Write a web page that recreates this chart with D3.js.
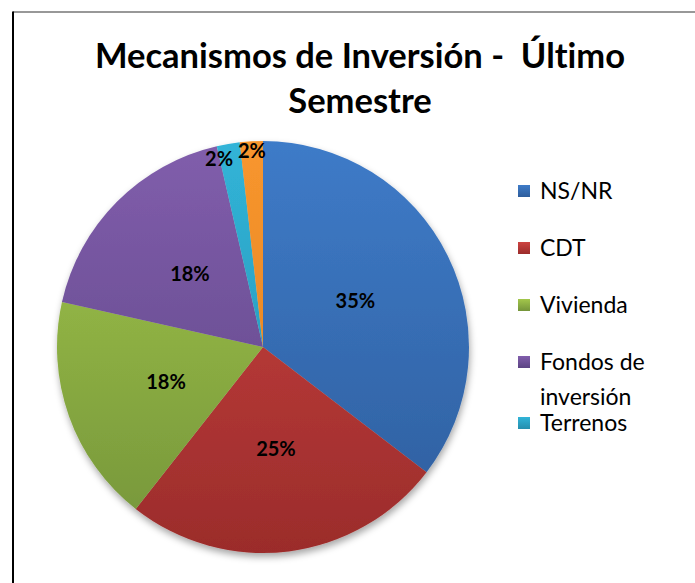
<!DOCTYPE html>
<html>
<head>
<meta charset="utf-8">
<script src="https://cdn.jsdelivr.net/npm/d3@7"></script>
<style>
  body { margin: 0; background: #fff; }
  figure { margin: 0; }
  svg { display: block; font-family: Lato, "Open Sans", sans-serif; font-variant-ligatures: none; }
</style>
</head>
<body>
<figure></figure>
<script>
// data (percent of answers)
const categories = ['NS/NR', 'CDT', 'Vivienda', 'Fondos de inversión', 'Terrenos', 'Otros']
const values = [35.4, 25.2, 17.9, 17.9, 1.8, 1.8]
const titleLines = ['Mecanismos de Inversión -  Último', 'Semestre']
const legendCount = 5   // the last entry doesn't fit in the box

// slice gradients, light at the top, dark at the bottom
const colorsTop = ['#3e7bc8', '#cd4441', '#a3c74b', '#815eac', '#31b4d8', '#f8962e']
const colorsBottom = ['#2e5d9c', '#9b2c2b', '#74943a', '#5b4383', '#258ead', '#de7e1f']

const width = 695, height = 583,
      cx = 263, cy = 347, R = 206,
      total = d3.sum(values),
      fmt = d3.format('.0%')

const svg = d3.select('figure')
    .append('svg')
        .attr('width', width)
        .attr('height', height)

const defs = svg.append('defs')

const shadow = defs.append('filter')
    .attr('id', 'shadow')
    .attr('x', '-10%').attr('y', '-10%')
    .attr('width', '120%').attr('height', '120%')
shadow.append('feDropShadow')
    .attr('dx', 1).attr('dy', 4)
    .attr('stdDeviation', 3.5)
    .attr('flood-color', '#000')
    .attr('flood-opacity', 0.35)

categories.forEach((c, i) => {
  const g = defs.append('linearGradient')
      .attr('id', 'grad' + i)
      .attr('gradientUnits', 'userSpaceOnUse')
      .attr('x1', 0).attr('x2', 0)
      .attr('y1', -R).attr('y2', R)
  g.append('stop').attr('offset', '0%').attr('stop-color', colorsTop[i])
  g.append('stop').attr('offset', '100%').attr('stop-color', colorsBottom[i])

  const lg = defs.append('linearGradient')
      .attr('id', 'lgrad' + i)
      .attr('x1', 0).attr('x2', 0).attr('y1', 0).attr('y2', 1)
  lg.append('stop').attr('offset', '0%').attr('stop-color', colorsTop[i])
  lg.append('stop').attr('offset', '100%').attr('stop-color', colorsBottom[i])
})

// frame (only left and top edges show in the crop)
svg.append('line')
    .attr('x1', 13).attr('x2', width)
    .attr('y1', 12).attr('y2', 12)
    .attr('stroke', '#333').attr('stroke-width', 1.2)
svg.append('line')
    .attr('x1', 13).attr('x2', 13)
    .attr('y1', 11.4).attr('y2', height)
    .attr('stroke', '#000').attr('stroke-width', 2)

// title
svg.append('g')
    .selectAll('text')
    .data(titleLines)
    .join('text')
        .attr('x', 360)
        .attr('y', (d, i) => 68 + i * 45)
        .attr('text-anchor', 'middle')
        .style('white-space', 'pre')
        .attr('font-size', 34.5)
        .attr('font-weight', 'bold')
        .attr('fill', '#000')
        .text(d => d)

// pie
const pie = d3.pie().sort(null).value(d => d)
const arcs = pie(values)
const arc = d3.arc().innerRadius(0).outerRadius(R)

const pieG = svg.append('g')
    .attr('transform', 'translate(' + cx + ',' + cy + ')')

pieG.append('g')
    .attr('filter', 'url(#shadow)')
    .selectAll('path')
    .data(arcs)
    .join('path')
        .attr('d', arc)
        .attr('fill', (d, i) => 'url(#grad' + i + ')')

// labels
const labelG = pieG.append('g')
    .attr('font-size', 20)
    .attr('font-weight', 'bold')
    .attr('text-anchor', 'middle')
    .attr('fill', '#000')

const placed = []
const pad = 4
const overlaps = (a, b) => !(a.x + a.width + pad < b.x || b.x + b.width + pad < a.x || a.y + a.height < b.y || b.y + b.height < a.y)

arcs.slice().reverse().forEach(d => {
  const frac = d.value / total
  const t = labelG.append('text')
      .attr('dy', '0.35em')
      .text(fmt(frac))
  if (frac >= 0.05) {
    const [x, y] = arc.centroid(d)
    t.attr('x', x).attr('y', y)
    return
  }
  // small slices: put the label near the rim, nudge it back until it is clear
  let a = (d.startAngle + d.endAngle) / 2, r = R * 0.955
  const setPos = () => t.attr('x', r * Math.sin(a)).attr('y', -r * Math.cos(a))
  setPos()
  let box = t.node().getBBox()
  while (placed.some(p => overlaps(p, box))) {
    a -= 0.01
    r -= 0.6
    setPos()
    box = t.node().getBBox()
  }
  placed.push(box)
})

// legend
const legend = svg.append('g')
    .attr('font-size', 23)
    .attr('fill', '#000')

let ly = 199
categories.slice(0, legendCount).forEach((c, i) => {
  const item = legend.append('g')
  item.append('rect')
      .attr('x', 518).attr('y', ly - 14)
      .attr('width', 12).attr('height', 12)
      .attr('fill', 'url(#lgrad' + i + ')')

  // wrap long names
  const words = c.split(' ')
  const lines = []
  let cur = ''
  const probe = item.append('text')
  words.forEach(w => {
    const test = cur ? cur + ' ' + w : w
    probe.text(test)
    if (probe.node().getComputedTextLength() > 140 && cur) {
      lines.push(cur)
      cur = w
    } else cur = test
  })
  lines.push(cur)
  probe.remove()

  lines.forEach((l, j) => {
    item.append('text')
        .attr('x', 540)
        .attr('y', ly + j * 35)
        .text(l)
  })
  ly += 57 + (lines.length - 1) * 4
})
</script>
</body>
</html>
